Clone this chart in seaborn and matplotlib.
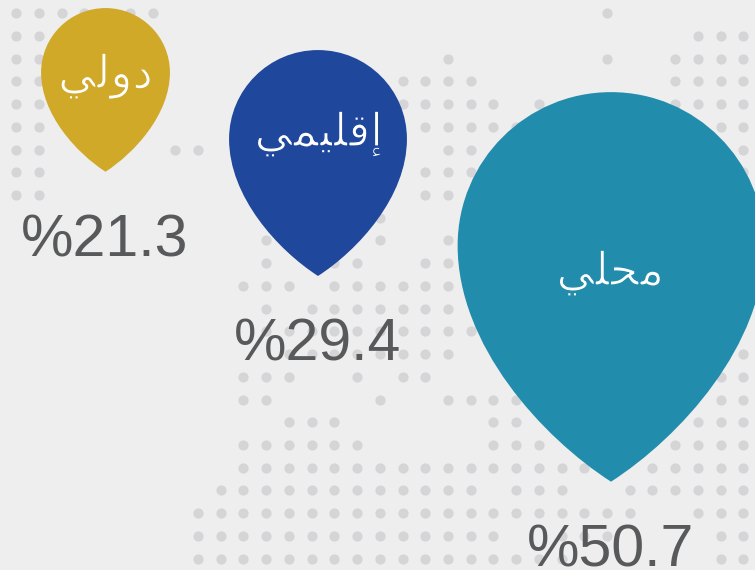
#!/usr/bin/python3

import matplotlib
matplotlib.use('Agg')

import matplotlib.patheffects as pe
import matplotlib.pyplot as plt
import pandas as pd
import seaborn as sns
from matplotlib.path import Path

# labels are shaped glyphs in visual order, matplotlib has no arabic shaping
categories = ['\uFEF2\uFEDF\uFEED\uFEA9',
              '\uFEF2\uFEE4\uFEF4\uFEE0\uFED7\uFE87',
              '\uFEF2\uFEE0\uFEA4\uFEE3']
values = [21.3, 29.4, 50.7]
value_labels = ['%21.3', '%29.4', '%50.7']

# dot map, columns that are filled in each row of the grid
map_rows = [
    [0, 1, 2, 3, 4, 5, 6, 26],
    [0, 1, 30, 31, 32],
    [0, 1, 19, 26, 29, 30, 31, 32],
    [0, 1, 17, 18, 19, 20, 29, 30, 31, 32],
    [0, 1, 17, 18, 19, 20, 21, 23, 29, 30, 31, 32],
    [0, 1, 18, 19, 20, 21, 22, 31, 32],
    [0, 1, 7, 8, 19, 20, 32],
    [0, 1, 18, 19, 20, 32],
    [0, 1, 18, 19],
    [16],
    [11, 16, 19],
    [11, 14, 15, 18, 19],
    [10, 11, 12, 14, 15, 16, 17, 18, 19],
    [11, 13, 14, 15, 16, 17, 18, 19],
    [11, 12, 13, 14, 15, 16, 17, 18, 19, 20],
    [12, 13, 14, 15, 16, 17, 18, 19, 32],
    [10, 11, 12, 15, 17, 18, 31, 32],
    [10, 11, 16, 19, 20, 21, 22, 31, 32],
    [12, 13, 14, 21, 22, 30, 31, 32],
    [10, 11, 12, 13, 14, 15, 21, 22, 23, 29, 30, 31, 32],
    [10, 11, 12, 13, 14, 15, 16, 17, 18, 19, 20, 21, 22, 23, 24, 25, 28, 29, 30, 31, 32],
    [9, 10, 11, 12, 13, 14, 15, 16, 17, 18, 19, 20, 22, 23, 24, 27, 28, 29, 30, 31, 32],
    [8, 9, 10, 11, 12, 13, 14, 15, 16, 17, 18, 19, 20, 21, 22, 23, 24, 25, 26, 27, 30, 31, 32],
    [8, 9, 10, 11, 12, 13, 14, 15, 16, 17, 18, 19, 20, 21, 24, 25, 26, 31, 32],
    [8, 9, 10, 11, 12, 13, 14, 15, 16, 17, 18, 19, 20, 21, 22, 23, 24, 31, 32],
]

W, H = 755, 570
STEP = 22.72
X0, Y0 = 16.3, 13.3
PIN_COLORS = ['#d0a928', '#1f479b', '#218cab']

def gx(px):
    return (px - X0) / STEP

def gy(px):
    return (px - Y0) / STEP

def main():
    sns.set_theme(style = 'white')
    plt.rcParams['font.family'] = ['Liberation Sans', 'DejaVu Sans']

    fig = plt.figure(figsize = (W / 100, H / 100), dpi = 100, facecolor = '#eeeeee')
    ax = fig.add_axes([0, 0, 1, 1])
    ax.set_facecolor('#eeeeee')
    ax.set_xlim(gx(0), gx(W))
    ax.set_ylim(gy(H), gy(0))
    ax.axis('off')

    dots = pd.DataFrame([(c, r) for r, cols in enumerate(map_rows) for c in cols], columns = ['col', 'row'])
    sns.scatterplot(data = dots, x = 'col', y = 'row', color = '#d5d5d8', s = 54, linewidth = 0, ax = ax, zorder = 1)

    # pin, half width 1 around the centre of its round head
    pin = Path(
        [(0, 1), (0.552, 1), (1, 0.552), (1, 0),
         (1, -0.65), (0.45, -1.25), (0, -1.54),
         (-0.45, -1.25), (-1, -0.65), (-1, 0),
         (-1, 0.552), (-0.552, 1), (0, 1), (0, 1)],
        [Path.MOVETO] + [Path.CURVE4] * 12 + [Path.CLOSEPOLY],
    )

    # width of a pin is proportional to its value, about 6.05 px per percent
    k = 2 * 1.54 * 0.72 * 6.05 / 2
    pins = pd.DataFrame({
        'category': categories,
        'value': values,
        'x': [gx(105.5), gx(318), gx(611)],
        'y': [gy(72.5), gy(139), gy(245.5)],
    })
    sns.scatterplot(
        data = pins, x = 'x', y = 'y', hue = 'category', size = 'value',
        palette = dict(zip(categories, PIN_COLORS)),
        sizes = {v: (k * v) ** 2 for v in values},
        marker = pin, linewidth = 0, edgecolor = 'none', legend = False, ax = ax, zorder = 2, clip_on = True,
    )

    # outline in the pin colour thins the strokes, the reference font is light
    label_pos = [(105.5, 88), (319, 146), (610.5, 285)]
    for name, (x, y), col in zip(categories, label_pos, PIN_COLORS):
        ax.text(gx(x), gy(y), name, family = 'DejaVu Sans', fontsize = 33, color = 'white',
                ha = 'center', va = 'baseline', zorder = 3,
                path_effects = [pe.Stroke(linewidth = 0.9, foreground = col)])

    value_pos = [(105, 257), (318, 361), (611, 567)]
    for name, (x, y) in zip(value_labels, value_pos):
        ax.text(gx(x), gy(y), name, fontsize = 42.5, color = '#58595b', ha = 'center', va = 'baseline', zorder = 3)

    ax.set_xlabel('')
    ax.set_ylabel('')
    fig.savefig('out.png', dpi = 100, facecolor = fig.get_facecolor())

if __name__ == '__main__':
    main()
